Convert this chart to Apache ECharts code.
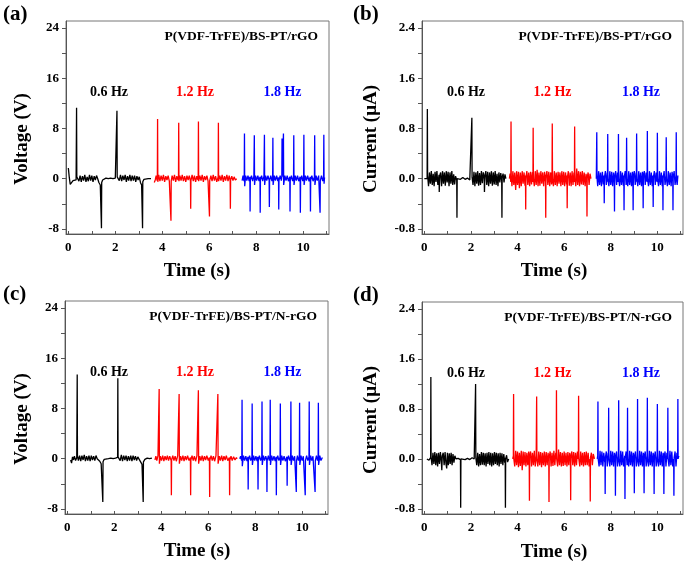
<!DOCTYPE html>
<html>
<head>
<meta charset="utf-8">
<script src="https://cdn.jsdelivr.net/npm/echarts@6/dist/echarts.min.js"></script>
<style>html,body{margin:0;padding:0;background:#fff}#c{width:685px;height:564px}</style>
</head>
<body>
<div id="c"></div>
<script>
// ---- data (time in s, value) ----
const xTickLabels = [0, 2, 4, 6, 8, 10];
const xMinorTicks = [0, 1, 2, 3, 4, 5, 6, 7, 8, 9, 10, 11];
const voltTickLabels = [-8, 0, 8, 16, 24];
const voltTicks = [-8, -4, 0, 4, 8, 12, 16, 20, 24];
const currTickLabels = [-0.8, 0, 0.8, 1.6, 2.4];
const currTicks = [-0.8, -0.4, 0, 0.4, 0.8, 1.2, 1.6, 2.0, 2.4];
const freqLabels = ['0.6 Hz', '1.2 Hz', '1.8 Hz'];

// (a) voltage, rGO
const aBlack = [[0,1.7],[0.04,0.2],[0.08,-0.9],[0.14,-0.7],[0.2,-0.3],[0.26,-0.5],[0.33,-0.2],[0.34,0],[0.35,11.3],[0.36,0.3],[0.4,0.6],[0.45,-0.4],[0.5,0.5],[0.55,-0.5],[0.6,0.4],[0.65,-0.3],[0.7,0.6],[0.75,-0.5],[0.8,0.3],[0.85,-0.4],[0.9,0.6],[0.95,-0.3],[1.0,0.5],[1.05,-0.5],[1.1,0.4],[1.15,-0.2],[1.2,0.5],[1.25,0],[1.3,-0.6],[1.36,-1.0],[1.4,-1.2],[1.41,-7.9],[1.42,-0.6],[1.46,-0.2],[1.5,0],[1.6,0.1],[1.7,0],[1.8,0.1],[1.9,0],[2.0,0.1],[2.06,0.2],[2.07,10.8],[2.08,0.3],[2.12,0.5],[2.17,-0.3],[2.22,0.6],[2.27,-0.4],[2.32,0.5],[2.37,-0.2],[2.42,0.6],[2.47,-0.5],[2.52,0.4],[2.57,-0.3],[2.62,0.6],[2.67,-0.4],[2.72,0.5],[2.77,-0.3],[2.82,0.5],[2.87,-0.5],[2.92,0.4],[2.97,-0.2],[3.02,0.3],[3.07,-0.6],[3.12,-1.0],[3.15,-1.3],[3.16,-7.9],[3.17,-0.5],[3.22,-0.1],[3.3,0.1],[3.4,0],[3.45,0.1],[3.52,0]];
const aRed = [[3.66,-0.6],[3.7,-0.2],[3.74,0.5],[3.78,-0.3],[3.79,0.2],[3.80,9.5],[3.81,-0.5],[3.85,0.6],[3.9,-0.4],[3.95,0.5],[4.0,-0.3],[4.05,0.6],[4.1,-0.5],[4.15,0.4],[4.2,-0.2],[4.25,0.5],[4.3,-0.4],[4.35,-0.6],[4.36,-0.3],[4.37,-6.7],[4.38,-0.4],[4.42,0.5],[4.47,-0.3],[4.52,0.6],[4.57,-0.5],[4.62,0.4],[4.67,-0.2],[4.69,0.3],[4.70,8.9],[4.71,-0.4],[4.75,0.5],[4.8,-0.3],[4.85,0.6],[4.9,-0.4],[4.95,0.4],[5.0,-0.5],[5.05,0.5],[5.1,-0.2],[5.15,0.5],[5.2,-0.4],[5.21,-4.8],[5.22,-0.3],[5.27,0.6],[5.32,-0.4],[5.37,0.5],[5.42,-0.5],[5.47,0.4],[5.52,-0.2],[5.53,0.2],[5.54,9.1],[5.55,-0.4],[5.6,0.5],[5.65,-0.3],[5.7,0.6],[5.75,-0.5],[5.8,0.4],[5.85,-0.2],[5.9,0.5],[5.95,-0.4],[6.0,-0.6],[6.01,-6.0],[6.02,-0.3],[6.07,0.5],[6.12,-0.4],[6.17,0.6],[6.22,-0.3],[6.27,0.4],[6.32,-0.5],[6.38,0.3],[6.39,8.9],[6.40,-0.4],[6.45,0.5],[6.5,-0.3],[6.55,0.6],[6.6,-0.5],[6.65,0.4],[6.7,-0.3],[6.75,0.6],[6.8,-0.4],[6.85,0.5],[6.89,-0.3],[6.90,-4.8],[6.91,-0.2],[6.96,0.4],[7.01,-0.3],[7.06,0.3],[7.11,-0.2],[7.17,0]];
const aBlue = [[7.40,-0.3],[7.44,0.5],[7.48,-0.4],[7.49,0.2],[7.50,7.2],[7.51,-1.2],[7.55,0.5],[7.6,-0.3],[7.65,0.5],[7.7,-0.4],[7.73,0.3],[7.74,-5.2],[7.75,-0.3],[7.8,0.5],[7.85,-0.4],[7.9,0.4],[7.91,0.2],[7.92,6.9],[7.93,-1.0],[7.97,0.5],[8.02,-0.3],[8.07,0.5],[8.12,-0.4],[8.16,0.3],[8.17,-5.4],[8.18,-0.3],[8.23,0.5],[8.28,-0.4],[8.33,0.4],[8.34,0.2],[8.35,7.0],[8.36,-1.0],[8.4,0.5],[8.45,-0.3],[8.5,0.5],[8.55,-0.2],[8.56,-4.5],[8.57,-0.3],[8.62,0.5],[8.67,-0.4],[8.70,0.3],[8.71,6.5],[8.72,-1.0],[8.77,0.5],[8.82,-0.3],[8.87,0.5],[8.92,-0.4],[8.95,0.2],[8.96,-4.9],[8.97,-0.3],[9.02,0.5],[9.07,-0.3],[9.09,0.2],[9.10,6.4],[9.11,0.3],[9.15,0.2],[9.16,7.2],[9.17,-1.0],[9.22,0.5],[9.27,-0.3],[9.32,0.5],[9.37,-0.4],[9.43,0.3],[9.44,-5.2],[9.45,-0.3],[9.5,0.5],[9.55,-0.4],[9.59,0.3],[9.60,6.9],[9.61,-1.0],[9.66,0.5],[9.71,-0.3],[9.76,0.5],[9.81,-0.4],[9.87,0.3],[9.88,-5.4],[9.89,-0.3],[9.94,0.5],[9.98,-0.4],[10.02,0.3],[10.03,7.0],[10.04,-1.0],[10.09,0.5],[10.14,-0.3],[10.19,0.5],[10.25,-0.4],[10.30,0.3],[10.31,-5.2],[10.32,-0.3],[10.37,0.5],[10.42,-0.4],[10.48,0.3],[10.49,6.9],[10.50,-1.0],[10.55,0.5],[10.6,-0.3],[10.66,0.5],[10.71,0.3],[10.72,-5.4],[10.73,-0.3],[10.78,0.5],[10.83,-0.4],[10.87,0.3],[10.88,7.0],[10.89,-0.8],[10.91,0.2]];

// (b) current, rGO
const bBlack = [[0,0],[0.06,0.03],[0.12,0],[0.13,1.11],[0.14,0.05],[0.18,-0.12],[0.22,0.1],[0.26,-0.08],[0.3,0.12],[0.34,-0.1],[0.38,0.08],[0.42,-0.12],[0.46,0.11],[0.5,-0.05],[0.54,0.12],[0.58,-0.1],[0.63,0.06],[0.64,-0.21],[0.66,0.05],[0.7,0.1],[0.74,-0.12],[0.78,0.12],[0.82,-0.08],[0.86,0.1],[0.9,-0.11],[0.94,0.12],[0.98,-0.06],[1.02,0.11],[1.06,-0.12],[1.1,0.1],[1.14,-0.08],[1.18,0.12],[1.22,-0.1],[1.26,0.07],[1.3,-0.09],[1.34,0.04],[1.39,-0.02],[1.40,-0.62],[1.41,0],[1.46,0.02],[1.55,-0.01],[1.65,0.02],[1.75,-0.01],[1.85,0.01],[1.95,-0.02],[2.03,0.01],[2.04,0.97],[2.05,0.02],[2.09,-0.1],[2.13,0.11],[2.17,-0.12],[2.21,0.1],[2.25,-0.08],[2.29,0.12],[2.33,-0.11],[2.37,0.09],[2.41,-0.1],[2.45,0.12],[2.49,-0.07],[2.53,0.1],[2.57,0],[2.58,-0.21],[2.6,0.05],[2.64,0.12],[2.68,-0.1],[2.72,0.11],[2.76,-0.12],[2.8,0.1],[2.84,-0.08],[2.88,0.12],[2.92,-0.11],[2.96,0.1],[3.0,-0.09],[3.04,0.12],[3.08,-0.1],[3.12,0.08],[3.16,-0.12],[3.2,0.1],[3.24,-0.06],[3.28,0.09],[3.32,-0.03],[3.33,-0.62],[3.34,0.02],[3.38,0.08],[3.42,-0.06],[3.46,0.07],[3.5,0]];
const bRed = [[3.65,0],[3.68,0.08],[3.71,-0.05],[3.72,0.91],[3.73,0.02],[3.76,-0.12],[3.8,0.12],[3.84,-0.1],[3.88,0.1],[3.92,-0.18],[3.96,0.12],[4.0,-0.1],[4.04,0.11],[4.08,-0.15],[4.12,0.1],[4.16,-0.12],[4.2,0.12],[4.24,-0.08],[4.28,0.1],[4.32,-0.11],[4.34,0.05],[4.35,-0.49],[4.36,0.02],[4.4,0.12],[4.44,-0.1],[4.48,0.1],[4.52,-0.12],[4.56,0.11],[4.6,-0.09],[4.64,0.1],[4.66,-0.05],[4.67,0.81],[4.68,0],[4.72,-0.12],[4.76,0.12],[4.8,-0.1],[4.84,0.14],[4.88,-0.12],[4.92,0.1],[4.96,-0.11],[5.0,0.12],[5.04,-0.08],[5.08,0.1],[5.12,-0.12],[5.16,0.11],[5.2,-0.05],[5.21,-0.62],[5.22,0.02],[5.26,0.12],[5.3,-0.1],[5.34,0.11],[5.38,-0.12],[5.42,0.1],[5.46,-0.09],[5.48,0.05],[5.49,0.88],[5.5,0],[5.54,-0.12],[5.58,0.12],[5.62,-0.1],[5.66,0.1],[5.7,-0.12],[5.74,0.11],[5.78,-0.08],[5.82,0.1],[5.86,-0.12],[5.9,0.12],[5.94,-0.1],[5.98,0.11],[6.02,-0.12],[6.06,0.1],[6.1,-0.09],[6.12,0.05],[6.13,-0.47],[6.14,0.02],[6.18,0.12],[6.22,-0.11],[6.26,0.1],[6.3,-0.12],[6.34,0.12],[6.38,-0.1],[6.42,0.1],[6.44,-0.05],[6.45,0.83],[6.46,0],[6.5,-0.12],[6.54,0.16],[6.58,-0.1],[6.62,0.12],[6.66,-0.12],[6.7,0.11],[6.74,-0.09],[6.78,0.12],[6.82,-0.1],[6.86,0.1],[6.9,-0.12],[6.94,0.08],[6.97,-0.05],[6.98,-0.60],[6.99,0.02],[7.03,0.1],[7.07,-0.1],[7.11,0.08],[7.15,0]];
const bBlue = [[7.38,0],[7.40,0.74],[7.41,0.02],[7.44,-0.12],[7.48,0.12],[7.52,-0.1],[7.56,0.1],[7.6,-0.12],[7.64,0.11],[7.68,-0.09],[7.71,0.05],[7.72,-0.39],[7.73,0.02],[7.77,0.12],[7.81,-0.1],[7.85,0.1],[7.86,-0.05],[7.87,0.71],[7.88,0],[7.92,-0.12],[7.96,0.12],[8.0,-0.1],[8.04,0.11],[8.08,-0.12],[8.12,0.1],[8.15,-0.05],[8.16,-0.52],[8.17,0.02],[8.21,0.12],[8.25,-0.1],[8.29,0.1],[8.32,-0.05],[8.33,0.71],[8.34,0],[8.38,-0.12],[8.42,0.12],[8.46,-0.1],[8.5,0.1],[8.54,-0.11],[8.56,0.05],[8.57,-0.50],[8.58,0.02],[8.62,0.12],[8.66,-0.1],[8.67,0.03],[8.68,0.65],[8.69,0],[8.73,-0.12],[8.77,0.12],[8.81,-0.1],[8.85,0.1],[8.89,-0.12],[8.93,0.11],[8.95,-0.02],[8.96,-0.50],[8.97,0.02],[9.01,0.12],[9.05,-0.1],[9.09,0.1],[9.10,-0.05],[9.11,0.72],[9.12,0],[9.16,-0.12],[9.2,0.12],[9.24,-0.1],[9.28,0.1],[9.32,-0.12],[9.36,0.11],[9.38,0.03],[9.39,-0.47],[9.4,0.02],[9.44,0.12],[9.48,-0.1],[9.52,0.1],[9.56,-0.05],[9.57,0.76],[9.58,0],[9.62,-0.12],[9.66,0.12],[9.7,-0.1],[9.74,0.1],[9.78,-0.12],[9.81,0.05],[9.82,-0.45],[9.83,0.02],[9.87,0.12],[9.91,-0.1],[9.95,0.1],[9.99,-0.05],[10.0,0.73],[10.01,0],[10.05,-0.12],[10.09,0.12],[10.13,-0.1],[10.17,0.1],[10.21,-0.12],[10.23,0.05],[10.24,-0.50],[10.25,0.02],[10.29,0.12],[10.33,-0.1],[10.37,0.05],[10.38,0.66],[10.39,0],[10.43,-0.12],[10.47,0.12],[10.51,-0.1],[10.55,0.1],[10.59,-0.12],[10.63,0.11],[10.66,0.03],[10.67,-0.50],[10.68,0.02],[10.72,0.12],[10.76,-0.1],[10.8,0.05],[10.81,0.74],[10.82,0],[10.85,-0.1],[10.88,0.05]];

// (c) voltage, N-rGO
const cBlack = [[0.14,-0.2],[0.18,-0.7],[0.22,0.3],[0.26,-0.2],[0.3,0.4],[0.35,-0.3],[0.4,0.2],[0.41,0],[0.42,13.4],[0.43,0.4],[0.47,-0.3],[0.52,0.5],[0.57,-0.4],[0.62,0.5],[0.67,-0.2],[0.72,0.6],[0.77,-0.4],[0.82,0.4],[0.87,-0.3],[0.92,0.5],[0.97,-0.4],[1.02,0.5],[1.07,-0.2],[1.12,0.4],[1.17,-0.3],[1.22,0.5],[1.27,0],[1.32,0.2],[1.38,-0.4],[1.44,-0.8],[1.5,-1.0],[1.51,-6.9],[1.52,-0.5],[1.57,-0.1],[1.65,0.1],[1.75,0],[1.85,0.1],[1.95,0],[2.05,0.1],[2.14,0.2],[2.15,12.8],[2.16,0.3],[2.2,0.5],[2.25,-0.3],[2.3,0.6],[2.35,-0.4],[2.4,0.5],[2.45,-0.2],[2.5,0.5],[2.55,-0.4],[2.6,0.4],[2.65,-0.3],[2.7,0.5],[2.75,-0.4],[2.8,0.5],[2.85,-0.2],[2.9,0.4],[2.95,-0.3],[3.0,0.3],[3.06,0],[3.12,-0.5],[3.18,-0.9],[3.22,-1.1],[3.23,-6.9],[3.24,-0.5],[3.3,-0.1],[3.4,0.1],[3.5,0],[3.6,0.1]];
const cRed = [[3.73,-0.2],[3.77,0.4],[3.81,-0.3],[3.86,0.5],[3.9,0.2],[3.91,11.1],[3.92,-0.8],[3.96,0.4],[4.01,-0.3],[4.06,0.5],[4.11,-0.4],[4.16,0.4],[4.21,-0.2],[4.26,0.5],[4.31,-0.3],[4.36,0.4],[4.42,-0.3],[4.43,-5.8],[4.44,-0.2],[4.49,0.5],[4.54,-0.3],[4.59,0.4],[4.64,-0.4],[4.7,0.5],[4.75,0.2],[4.76,10.3],[4.77,-0.8],[4.82,0.4],[4.87,-0.3],[4.92,0.5],[4.97,-0.4],[5.02,0.4],[5.07,-0.2],[5.12,0.5],[5.18,-0.3],[5.24,0.2],[5.25,-5.8],[5.26,-0.2],[5.31,0.5],[5.36,-0.3],[5.41,0.4],[5.46,-0.4],[5.52,0.5],[5.57,0.2],[5.58,10.9],[5.59,-0.8],[5.64,0.4],[5.69,-0.3],[5.74,0.5],[5.79,-0.4],[5.84,0.4],[5.89,-0.2],[5.94,0.5],[6.0,-0.3],[6.05,0.2],[6.06,-6.1],[6.07,-0.2],[6.12,0.5],[6.17,-0.3],[6.22,0.4],[6.27,-0.4],[6.33,0.5],[6.4,0.2],[6.41,10.3],[6.42,-0.8],[6.47,0.4],[6.52,-0.3],[6.57,0.5],[6.62,-0.4],[6.67,0.4],[6.72,-0.2],[6.77,0.5],[6.83,-0.3],[6.9,0.2],[6.91,-5.8],[6.92,-0.2],[6.97,0.4],[7.02,-0.3],[7.08,0.3],[7.14,-0.2],[7.2,0.2],[7.23,0]];
const cBlue = [[7.34,0],[7.38,0.4],[7.42,-0.3],[7.43,0.2],[7.44,9.4],[7.45,-1.2],[7.5,0.5],[7.55,-0.3],[7.6,0.4],[7.65,-0.4],[7.69,0.3],[7.70,-4.9],[7.71,-0.3],[7.76,0.5],[7.81,-0.3],[7.86,0.3],[7.87,8.8],[7.88,-1.0],[7.93,0.5],[7.98,-0.3],[8.03,0.4],[8.08,-0.4],[8.11,0.3],[8.12,-4.9],[8.13,-0.3],[8.18,0.5],[8.23,-0.3],[8.28,0.3],[8.29,9.1],[8.3,-1.0],[8.35,0.5],[8.4,-0.3],[8.45,0.4],[8.49,-0.2],[8.5,-5.3],[8.51,-0.3],[8.56,0.5],[8.6,-0.3],[8.63,0.3],[8.64,9.4],[8.65,-1.0],[8.7,0.5],[8.75,-0.3],[8.8,0.4],[8.85,-0.4],[8.89,0.3],[8.9,-5.8],[8.91,-0.3],[8.96,0.5],[9.01,-0.3],[9.06,0.3],[9.07,8.8],[9.08,-1.0],[9.13,0.5],[9.18,-0.3],[9.23,0.4],[9.28,-0.4],[9.35,0.3],[9.36,-4.3],[9.37,-0.3],[9.42,0.5],[9.47,-0.3],[9.51,0.3],[9.52,9.1],[9.53,-1.0],[9.58,0.5],[9.63,-0.3],[9.68,0.4],[9.74,0.3],[9.75,-5.3],[9.76,-0.3],[9.8,0.5],[9.84,-0.3],[9.88,0.3],[9.89,8.9],[9.9,-1.0],[9.95,0.5],[10.0,-0.3],[10.05,0.4],[10.12,0.3],[10.13,-5.8],[10.14,-0.3],[10.19,0.5],[10.24,-0.3],[10.29,0.3],[10.3,9.1],[10.31,-1.0],[10.36,0.5],[10.41,-0.3],[10.46,0.4],[10.54,0.3],[10.55,-5.3],[10.56,-0.3],[10.61,0.5],[10.65,-0.3],[10.68,0.3],[10.69,8.9],[10.7,-1.0],[10.75,0.5],[10.8,-0.3],[10.86,0.2]];

// (d) current, N-rGO
const dBlack = [[0.11,0],[0.15,0.03],[0.2,-0.02],[0.27,0.02],[0.28,1.31],[0.29,0.03],[0.33,-0.1],[0.37,0.1],[0.41,-0.08],[0.45,0.11],[0.49,-0.1],[0.53,0.09],[0.57,-0.12],[0.61,0.1],[0.65,-0.08],[0.69,0.11],[0.73,-0.05],[0.75,-0.18],[0.77,0.05],[0.81,0.1],[0.85,-0.1],[0.89,0.11],[0.93,-0.08],[0.96,-0.15],[0.99,0.1],[1.03,-0.1],[1.07,0.09],[1.11,-0.08],[1.15,0.1],[1.19,-0.1],[1.23,0.08],[1.27,-0.06],[1.31,0.05],[1.36,0],[1.45,0.01],[1.55,-0.01],[1.56,-0.78],[1.57,0],[1.65,0.02],[1.75,-0.01],[1.85,0.01],[1.95,-0.01],[2.05,0.02],[2.14,0],[2.19,0.01],[2.2,1.2],[2.21,0.02],[2.25,-0.1],[2.29,0.1],[2.33,-0.12],[2.37,0.08],[2.41,-0.1],[2.45,0.11],[2.49,-0.09],[2.53,0.1],[2.57,-0.1],[2.61,0.09],[2.65,-0.12],[2.69,0.1],[2.73,-0.08],[2.77,0.11],[2.81,-0.1],[2.85,0.1],[2.89,-0.12],[2.93,0.09],[2.97,-0.1],[3.01,0.11],[3.05,-0.08],[3.09,0.1],[3.13,-0.1],[3.17,0.09],[3.21,-0.12],[3.25,0.1],[3.29,-0.08],[3.33,0.09],[3.37,-0.1],[3.41,0.08],[3.45,-0.06],[3.47,0.02],[3.48,-0.78],[3.49,0],[3.53,0.06],[3.57,-0.05],[3.62,0]];
const dRed = [[3.79,0],[3.82,0.05],[3.83,1.04],[3.84,0],[3.88,-0.12],[3.92,0.13],[3.96,-0.1],[4.0,0.12],[4.04,-0.13],[4.08,0.1],[4.12,-0.11],[4.16,0.13],[4.2,-0.18],[4.24,0.12],[4.28,-0.1],[4.32,0.11],[4.36,-0.12],[4.4,0.1],[4.44,-0.1],[4.48,0.12],[4.5,0],[4.51,-0.67],[4.52,0.02],[4.56,0.12],[4.6,-0.12],[4.64,0.1],[4.68,-0.1],[4.72,0.13],[4.76,-0.12],[4.8,0.05],[4.82,1.0],[4.83,0],[4.87,-0.12],[4.91,0.12],[4.95,-0.1],[4.99,0.11],[5.03,-0.13],[5.07,0.1],[5.11,-0.1],[5.15,0.12],[5.19,-0.12],[5.23,0.11],[5.27,-0.1],[5.31,0.1],[5.34,0],[5.35,-0.69],[5.36,0.02],[5.4,0.12],[5.44,-0.12],[5.48,0.1],[5.52,-0.11],[5.56,0.13],[5.6,-0.1],[5.64,0.1],[5.66,0],[5.67,1.1],[5.68,0],[5.72,-0.12],[5.76,0.15],[5.8,-0.1],[5.84,0.11],[5.88,-0.12],[5.92,0.1],[5.96,-0.11],[6.0,0.12],[6.04,-0.1],[6.08,0.1],[6.12,-0.12],[6.16,0.11],[6.2,-0.1],[6.24,0.1],[6.27,0],[6.28,-0.66],[6.29,0.02],[6.33,0.12],[6.37,-0.1],[6.41,0.11],[6.45,-0.12],[6.49,0.1],[6.53,-0.1],[6.57,0.12],[6.61,0],[6.62,1.01],[6.63,0],[6.67,-0.12],[6.71,0.12],[6.75,-0.1],[6.79,0.1],[6.83,-0.12],[6.87,0.11],[6.91,-0.1],[6.95,0.12],[6.99,-0.1],[7.03,0.1],[7.07,-0.12],[7.11,0],[7.12,-0.68],[7.13,0.02],[7.17,0.1],[7.21,-0.1],[7.25,0.08],[7.30,0]];
const dBlue = [[7.42,0],[7.44,0.05],[7.45,0.92],[7.46,0],[7.5,-0.12],[7.54,0.13],[7.58,-0.1],[7.62,0.12],[7.66,-0.12],[7.7,0.1],[7.74,-0.05],[7.75,0.02],[7.76,-0.56],[7.77,0.02],[7.81,0.12],[7.85,-0.12],[7.89,0.1],[7.9,0],[7.91,0.82],[7.92,0],[7.96,-0.12],[8.0,0.13],[8.04,-0.1],[8.08,0.12],[8.12,-0.12],[8.16,0.1],[8.19,0],[8.2,-0.59],[8.21,0.02],[8.25,0.12],[8.29,-0.12],[8.33,0.05],[8.34,0.94],[8.35,0],[8.39,-0.12],[8.43,0.13],[8.47,-0.1],[8.51,0.12],[8.55,-0.12],[8.6,0.05],[8.61,-0.64],[8.62,0.02],[8.66,0.12],[8.7,-0.1],[8.71,0],[8.72,0.82],[8.73,0],[8.77,-0.12],[8.81,0.13],[8.85,-0.1],[8.89,0.12],[8.93,-0.12],[8.97,0.1],[9.0,0],[9.01,-0.55],[9.02,0.02],[9.06,0.12],[9.1,-0.12],[9.14,0.05],[9.15,0.96],[9.16,0],[9.2,-0.12],[9.24,0.13],[9.28,-0.1],[9.32,0.12],[9.36,-0.12],[9.4,0.1],[9.42,0],[9.43,-0.55],[9.44,0.02],[9.48,0.12],[9.52,-0.12],[9.56,0.05],[9.57,0.98],[9.58,0],[9.62,-0.12],[9.66,0.13],[9.7,-0.1],[9.74,0.12],[9.78,-0.12],[9.82,0.1],[9.85,0],[9.86,-0.56],[9.87,0.02],[9.91,0.12],[9.95,-0.12],[9.99,0.05],[10.0,0.88],[10.01,0],[10.05,-0.12],[10.09,0.13],[10.13,-0.1],[10.17,0.12],[10.21,-0.12],[10.25,0.1],[10.27,0],[10.28,-0.56],[10.29,0.02],[10.33,0.12],[10.37,-0.12],[10.41,0.1],[10.44,0],[10.45,0.82],[10.46,0],[10.5,-0.12],[10.54,0.13],[10.58,-0.1],[10.62,0.12],[10.66,-0.12],[10.7,0],[10.71,-0.59],[10.72,0.02],[10.76,0.12],[10.8,-0.12],[10.84,0.1],[10.87,0],[10.88,0.96],[10.89,0],[10.92,0.05]];

// ---- chart ----
const FONT = "'Liberation Serif','Times New Roman',serif";
const AX = '#555';
const panels = [
  {grid:{left:66, top:21, width:263, height:213}, kind:'V', data:[aBlack,aRed,aBlue], letter:'(a)', sample:'P(VDF-TrFE)/BS-PT/rGO'},
  {grid:{left:422, top:21, width:261, height:213}, kind:'I', data:[bBlack,bRed,bBlue], letter:'(b)', sample:'P(VDF-TrFE)/BS-PT/rGO'},
  {grid:{left:65, top:301, width:263, height:213}, kind:'V', data:[cBlack,cRed,cBlue], letter:'(c)', sample:'P(VDF-TrFE)/BS-PT/N-rGO'},
  {grid:{left:422, top:302, width:261, height:212}, kind:'I', data:[dBlack,dRed,dBlue], letter:'(d)', sample:'P(VDF-TrFE)/BS-PT/N-rGO'}
];
const colors = ['#000000', '#ff0000', '#0000ff'];

const grid = [], xAxis = [], yAxis = [], series = [], graphic = [];
panels.forEach((p, i) => {
  grid.push(Object.assign({show:true, borderColor:'#777', borderWidth:1, backgroundColor:'transparent'}, p.grid));
  xAxis.push({
    type:'value', gridIndex:i, min:-0.1, max:11.1,
    axisLine:{show:true, onZero:false, lineStyle:{color:AX, width:1}},
    axisTick:{show:true, inside:true, length:3, customValues:xMinorTicks, lineStyle:{color:AX}},
    axisLabel:{customValues:xTickLabels, margin:7, fontFamily:FONT, fontWeight:'bold', fontSize:13, color:'#000'},
    splitLine:{show:false}
  });
  const isV = p.kind === 'V';
  yAxis.push({
    type:'value', gridIndex:i,
    min: isV ? -8.8 : -0.88, max: isV ? 25.1 : 2.51,
    axisLine:{show:true, onZero:false, lineStyle:{color:AX, width:1}},
    axisTick:{show:true, inside:false, length:4, customValues: isV ? voltTicks : currTicks, lineStyle:{color:AX}},
    axisLabel:{customValues: isV ? voltTickLabels : currTickLabels, margin:7,
      formatter: v => isV ? String(v) : Number(v).toFixed(1),
      fontFamily:FONT, fontWeight:'bold', fontSize:13, color:'#000'},
    splitLine:{show:false}
  });
  p.data.forEach((d, k) => {
    series.push({type:'line', xAxisIndex:i, yAxisIndex:i, data:d, showSymbol:false,
      lineStyle:{color:colors[k], width:1.3}, itemStyle:{color:colors[k]}, animation:false, silent:true});
  });
  const g = p.grid;
  const right = g.left + g.width;
  // panel letter
  graphic.push({type:'text', x: i % 2 === 0 ? 3 : 353, y: g.top - 6,
    style:{text:p.letter, font:`bold 21px ${FONT}`, fill:'#000', textAlign:'left', textVerticalAlign:'middle'}});
  // sample annotation
  graphic.push({type:'text', x: right - 11, y: g.top + 16,
    style:{text:p.sample, font:`bold 13.5px ${FONT}`, fill:'#000', textAlign:'right', textVerticalAlign:'middle'}});
  // frequency labels
  const fx = i % 2 === 0 ? [109, 195, 282.5] : [466, 552.5, 641];
  freqLabels.forEach((t, k) => {
    graphic.push({type:'text', x: fx[k], y: g.top + 71,
      style:{text:t, font:`bold 14px ${FONT}`, fill:colors[k], textAlign:'center', textVerticalAlign:'middle'}});
  });
  // axis titles
  graphic.push({type:'text', x: i % 2 === 0 ? 197 : 554, y: g.top + 250,
    style:{text:'Time (s)', font:`bold 19px ${FONT}`, fill:'#000', textAlign:'center', textVerticalAlign:'middle'}});
  graphic.push({type:'text', x: i % 2 === 0 ? 22.5 : 371, y: g.top + 118, rotation: Math.PI / 2,
    style:{text: isV ? 'Voltage (V)' : 'Current (μA)', font:`bold 19px ${FONT}`, fill:'#000', textAlign:'center', textVerticalAlign:'middle'}});
});

const chart = echarts.init(document.getElementById('c'), null, {renderer:'canvas'});
chart.setOption({backgroundColor:'#fff', animation:false, grid, xAxis, yAxis, series, graphic});
</script>
</body>
</html>
